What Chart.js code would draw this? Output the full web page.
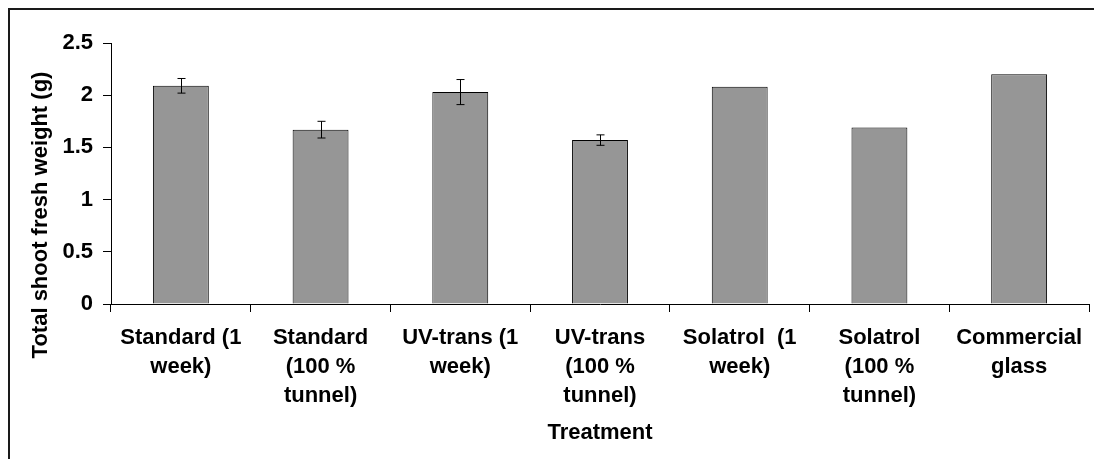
<!DOCTYPE html>
<html>
<head>
<meta charset="utf-8">
<script src="https://cdn.jsdelivr.net/npm/chart.js@4"></script>
<style>
  body { margin: 0; background: #fff; }
  #wrap { position: relative; width: 1094px; height: 459px; overflow: hidden; }
  #frame { position: absolute; left: 8px; top: 8px; width: 1200px; height: 600px;
           border-left: 2px solid #1a1a1a; border-top: 2px solid #1a1a1a; pointer-events: none; }
</style>
</head>
<body>
<div id="wrap">
  <canvas id="chart" width="1094" height="459"></canvas>
  <div id="frame"></div>
</div>
<script>
// données
const treatments = [
  ['Standard (1', 'week)'],
  ['Standard', '(100 %', 'tunnel)'],
  ['UV-trans (1', 'week)'],
  ['UV-trans', '(100 %', 'tunnel)'],
  ['Solatrol  (1', 'week)'],
  ['Solatrol', '(100 %', 'tunnel)'],
  ['Commercial', 'glass']
];
const freshWeight = [2.09, 1.67, 2.03, 1.57, 2.08, 1.69, 2.20];
const errors = [0.07, 0.08, 0.12, 0.05, null, null, null];
const yTicks = [0, 0.5, 1, 1.5, 2, 2.5];

const FONT = 'Arial, "Liberation Sans", sans-serif';

// barres d'erreur
const errorBars = {
  id: 'errorBars',
  afterDatasetsDraw(chart) {
    const ctx = chart.ctx;
    const y = chart.scales.y;
    const meta = chart.getDatasetMeta(0);
    ctx.save();
    ctx.strokeStyle = '#000';
    ctx.lineWidth = 1;
    meta.data.forEach((bar, i) => {
      const e = errors[i];
      if (e == null) return;
      const x = Math.round(bar.x) + 0.5;
      const top = y.getPixelForValue(freshWeight[i] + e);
      const bot = y.getPixelForValue(freshWeight[i] - e);
      ctx.beginPath();
      ctx.moveTo(x, top); ctx.lineTo(x, bot);
      ctx.moveTo(x - 4, top); ctx.lineTo(x + 4, top);
      ctx.moveTo(x - 4, bot); ctx.lineTo(x + 4, bot);
      ctx.stroke();
    });
    ctx.restore();
  }
};

// titre de l'axe Y (décalé vers le bas comme sur l'original)
const yTitle = {
  id: 'yTitle',
  afterDraw(chart) {
    const ctx = chart.ctx;
    ctx.save();
    ctx.translate(41, 215);
    ctx.rotate(-Math.PI / 2);
    ctx.font = 'bold 22px ' + FONT;
    ctx.fillStyle = '#000';
    ctx.textAlign = 'center';
    ctx.textBaseline = 'middle';
    ctx.fillText('Total shoot fresh weight (g)', 0, 0);
    ctx.restore();
  }
};

new Chart(document.getElementById('chart'), {
  type: 'bar',
  data: {
    labels: treatments,
    datasets: [{
      data: freshWeight,
      backgroundColor: '#969696',
      borderColor: '#000',
      borderWidth: 1,
      barPercentage: 0.4,
      categoryPercentage: 1.0
    }]
  },
  options: {
    responsive: false,
    animation: false,
    layout: { padding: { left: 0, right: 5, top: 43, bottom: 0 } },
    plugins: { legend: { display: false }, tooltip: { enabled: false } },
    scales: {
      x: {
        grid: { display: true, drawOnChartArea: false, offset: true, tickLength: 8, color: '#000' },
        border: { color: '#000', width: 1 },
        ticks: {
          color: '#000', maxRotation: 0, minRotation: 0, autoSkip: false, padding: 11,
          font: { family: FONT, size: 22, weight: 'bold', lineHeight: 1.32 }
        },
        title: {
          display: true, text: 'Treatment', color: '#000',
          font: { family: FONT, size: 22, weight: 'bold' },
          padding: { top: 0, bottom: 13 }
        },
        afterFit(scale) { scale.height = 155; }
      },
      y: {
        min: 0, max: 2.5,
        afterBuildTicks(scale) { scale.ticks = yTicks.map(v => ({ value: v })); },
        grid: { display: true, drawOnChartArea: false, tickLength: 8, color: '#000' },
        border: { color: '#000', width: 1 },
        ticks: {
          color: '#000', padding: 10,
          font: { family: FONT, size: 22, weight: 'bold' },
          callback: v => String(v)
        },
        afterFit(scale) { scale.width = 111; }
      }
    }
  },
  plugins: [errorBars, yTitle]
});
</script>
</body>
</html>
